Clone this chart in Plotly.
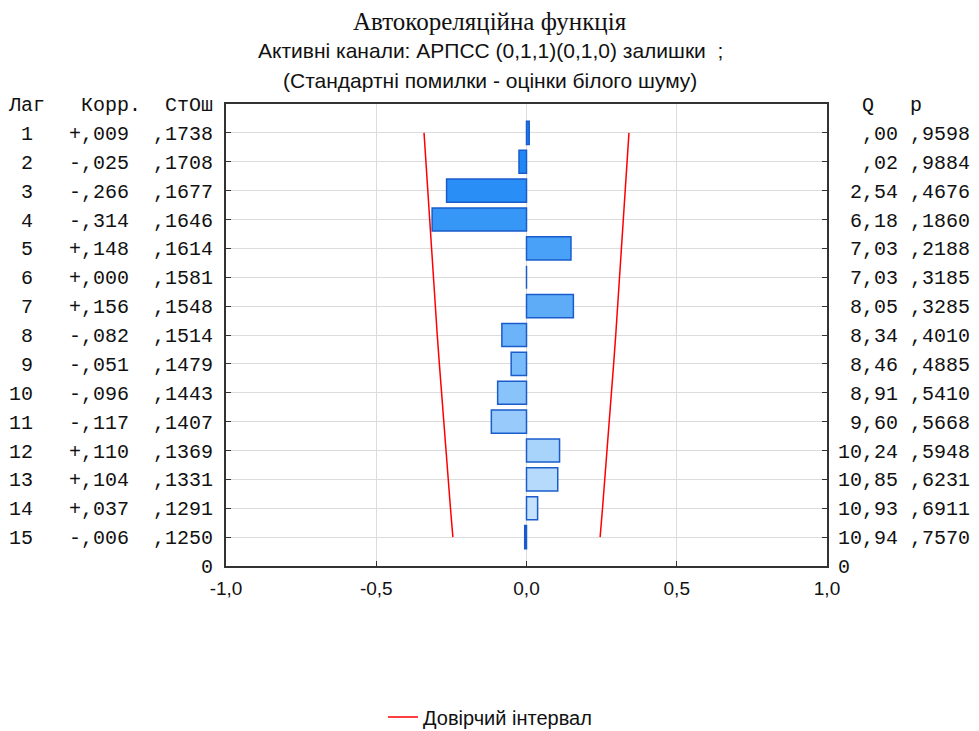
import plotly.graph_objects as go

lags = list(range(1, 16))
corr = [0.009, -0.025, -0.266, -0.314, 0.148, 0.000, 0.156, -0.082, -0.051, -0.096,
        -0.117, 0.110, 0.104, 0.037, -0.006]
corr_txt = ["+,009", "-,025", "-,266", "-,314", "+,148", "+,000", "+,156", "-,082",
            "-,051", "-,096", "-,117", "+,110", "+,104", "+,037", "-,006"]
se_txt = [",1738", ",1708", ",1677", ",1646", ",1614", ",1581", ",1548", ",1514",
          ",1479", ",1443", ",1407", ",1369", ",1331", ",1291", ",1250"]
q_txt = [",00", ",02", "2,54", "6,18", "7,03", "7,03", "8,05", "8,34", "8,46", "8,91",
         "9,60", "10,24", "10,85", "10,93", "10,94"]
p_txt = [",9598", ",9884", ",4676", ",1860", ",2188", ",3185", ",3285", ",4010",
         ",4885", ",5410", ",5668", ",5948", ",6231", ",6911", ",7570"]
# confidence limits (±)
ci = [0.341, 0.335, 0.329, 0.323, 0.316, 0.310, 0.303, 0.297, 0.290, 0.283,
      0.276, 0.268, 0.261, 0.253, 0.245]
x_ticks = [-1.0, -0.5, 0.0, 0.5, 1.0]
x_tick_txt = ["-1,0", "-0,5", "0,0", "0,5", "1,0"]

bar_colors = ["#1a80f0", "#1f88f5", "#2a8ef7", "#3797f7", "#4aa2f8", "#52a6f8",
              "#5eacf8", "#6cb4f9", "#78bbfa", "#88c3fa", "#98cbfb", "#a8d3fb",
              "#b6dafc", "#c4e1fd", "#1a5ccc"]

MONO = "Liberation Mono"
SANS = "Liberation Sans"

left_vals = [0] + lags + [16]
left_txt = ["Лаг   Корр.  СтОш"] + [f"{l:>2}   {c}  {s}" for l, c, s in zip(lags, corr_txt, se_txt)] + ["0"]
right_txt = ["  Q   p"] + [f"{q:>5} {p}" for q, p in zip(q_txt, p_txt)] + ["0"]

# figure is offset by the page's 8px body margin
L, R, T, B = 218, 160, 96, 173
PH = 731 - T - B
PW = 979 - L - R


def py(page_y):
    return (731 - B - (page_y - 8)) / PH


def px(page_x):
    return ((page_x - 8) - L) / PW


fig = go.Figure()
fig.add_trace(go.Bar(
    x=corr, y=lags, orientation="h", width=0.8,
    marker=dict(color=bar_colors, line=dict(color="#1a5ccc", width=1.5)),
    showlegend=False, hoverinfo="x+y"))
fig.add_trace(go.Scatter(
    x=[-c for c in ci] + [None] + ci, y=lags + [None] + lags,
    mode="lines", line=dict(color="#ff0000", width=1.5),
    name="Довірчий інтервал", showlegend=True))
fig.add_trace(go.Scatter(x=[0], y=[1], yaxis="y2", mode="markers",
                         marker=dict(opacity=0), showlegend=False, hoverinfo="skip"))

fig.update_layout(
    width=979, height=731,
    margin=dict(l=L, r=R, t=T, b=B, autoexpand=False),
    paper_bgcolor="white", plot_bgcolor="white",
    bargap=0.2,
    xaxis=dict(range=[-1, 1], tickvals=x_ticks, ticktext=x_tick_txt,
               showgrid=True, gridcolor="#dcdcdc", gridwidth=1,
               ticks="inside", ticklen=5, tickcolor="#333",
               showline=True, linecolor="#333", linewidth=2, mirror=True,
               zeroline=False, automargin=False, ticklabelstandoff=4,
               tickfont=dict(family=SANS, size=19, color="#111")),
    yaxis=dict(range=[16, 0], tickvals=left_vals, ticktext=left_txt,
               showgrid=True, gridcolor="#dcdcdc", gridwidth=1,
               ticks="inside", ticklen=5, tickcolor="#333",
               showline=True, linecolor="#333", linewidth=2, mirror=True,
               zeroline=False, automargin=False, ticklabelstandoff=7,
               tickfont=dict(family=MONO, size=20, color="#111")),
    yaxis2=dict(range=[16, 0], overlaying="y", side="right", anchor="x",
                tickvals=left_vals, ticktext=right_txt,
                showgrid=False, ticks="inside", ticklen=5, tickcolor="#333",
                zeroline=False, showline=False, automargin=False, ticklabelstandoff=10,
                tickfont=dict(family=MONO, size=20, color="#111")),
    legend=dict(orientation="h", x=(490 - 8) / 979, xanchor="center", xref="container",
                y=1 - (717 - 8) / 731, yanchor="middle", yref="container",
                font=dict(family=SANS, size=20, color="#111"), bgcolor="rgba(0,0,0,0)"),
    annotations=[
        dict(text="Автокореляційна функція", x=px(490), y=py(21), xref="paper", yref="paper",
             xanchor="center", yanchor="middle", showarrow=False,
             font=dict(family="Liberation Serif", size=25, color="#111")),
        dict(text="Активні канали: АРПСС (0,1,1)(0,1,0) залишки  ;", x=px(490), y=py(50),
             xref="paper", yref="paper", xanchor="center", yanchor="middle", showarrow=False,
             font=dict(family=SANS, size=21, color="#111")),
        dict(text="(Стандартні помилки - оцінки білого шуму)", x=px(490), y=py(80),
             xref="paper", yref="paper", xanchor="center", yanchor="middle", showarrow=False,
             font=dict(family=SANS, size=21, color="#111")),
    ],
)

fig.write_html("out.html")
